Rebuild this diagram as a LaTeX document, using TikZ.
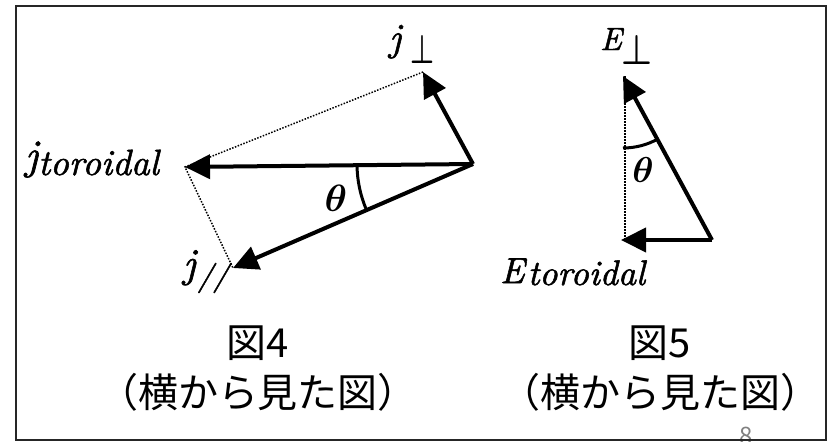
\RequirePackage{fix-cm}
\documentclass[tikz,border=0pt]{standalone}
\usepackage{graphicx}
\usepackage{bm}
\usepackage{fontspec}
\newfontfamily\jpfont{Noto Sans CJK JP}
\newfontfamily\mitfont{lmroman10-italic}[Extension=.otf,FakeBold=1.5]
\usetikzlibrary{arrows.meta}
\begin{document}
\begin{tikzpicture}[x=1pt,y=-1pt,
  vec/.style={line width=4pt,-{Triangle[length=25pt,width=24pt]}},
  dotln/.style={line width=1.5pt,dash pattern=on 1.5pt off 1.5pt},
  anglearc/.style={line width=3pt},
  lbl/.style={inner sep=0pt,anchor=base west},
  captxt/.style={font=\jpfont\fontsize{40}{48}\selectfont,inner sep=0pt,anchor=base}]
\useasboundingbox (0,0) rectangle (831,442);
% page number and frame
\node[text=black!50,font=\jpfont\fontsize{24}{24}\selectfont,inner sep=0pt,anchor=base] (pnum) at (746,444) {8};
\draw[line width=2.5pt,black!85] (16,6) rectangle (826,440);
% figure 4
\coordinate (O1) at (473,164);
\coordinate (Ttor) at (185,167);
\coordinate (Tperp) at (423,72);
\coordinate (Tpar) at (233,268);
\draw[dotln] (Tperp) -- (Ttor) -- (Tpar);
\draw[vec] (O1) -- (Ttor);
\draw[vec] (O1) -- (Tperp);
\draw[vec] (O1) -- (Tpar);
\draw[anglearc] ([shift={(180:116pt)}]O1) arc[start angle=180,end angle=203.4,radius=116pt];
\node (th1) at (336,198) {\fontsize{38}{38}\selectfont$\bm{\theta}$};
\node[lbl] (ltor) at (25,169) {{\fontsize{42}{42}\mitfont j}\raisebox{-6pt}{\fontsize{36.5}{36}\mitfont toroidal}};
\node[lbl] (lperp) at (389,50.5) {{\fontsize{39}{39}\mitfont j}\hspace{9pt}\raisebox{-12.5pt}{\resizebox{24pt}{28pt}{$\bm{\perp}$}}};
\node[lbl] (lpar) at (183,277) {{\fontsize{41}{41}\mitfont j}\hspace{2pt}\raisebox{-8.5pt}{\fontsize{30}{30}\mitfont //}};
% figure 5
\coordinate (O2) at (712,240);
\coordinate (Etor) at (621,240);
\coordinate (Eperp) at (623,76);
\draw[dotln] ([xshift=2pt]Eperp) -- ([xshift=2pt]Eperp |- Etor);
\draw[vec] (O2) -- (Etor);
\draw[vec] (O2) -- (Eperp);
\draw[anglearc] ([shift={(270:72pt)}]Eperp) arc[start angle=270,end angle=298.8,radius=72pt];
\node (th2) at (643,170) {\fontsize{36}{36}\selectfont$\bm{\theta}$};
\node[lbl] (Eperpl) at (600,50) {{\fontsize{32}{32}\mitfont E}\raisebox{-14pt}{\resizebox{31pt}{29pt}{$\bm{\perp}$}}};
\node[lbl] (Etorl) at (500,283) {{\fontsize{36}{36}\mitfont E}\hspace{3pt}\raisebox{-2pt}{\fontsize{35.5}{35}\mitfont toroidal}};
% captions
\node[captxt] (c4a) at (258,357) {図4};
\node[captxt] (c4b) at (258,407) {（横から見た図）};
\node[captxt] (c5a) at (660,357) {図5};
\node[captxt] (c5b) at (660,407) {（横から見た図）};
\end{tikzpicture}
\end{document}
